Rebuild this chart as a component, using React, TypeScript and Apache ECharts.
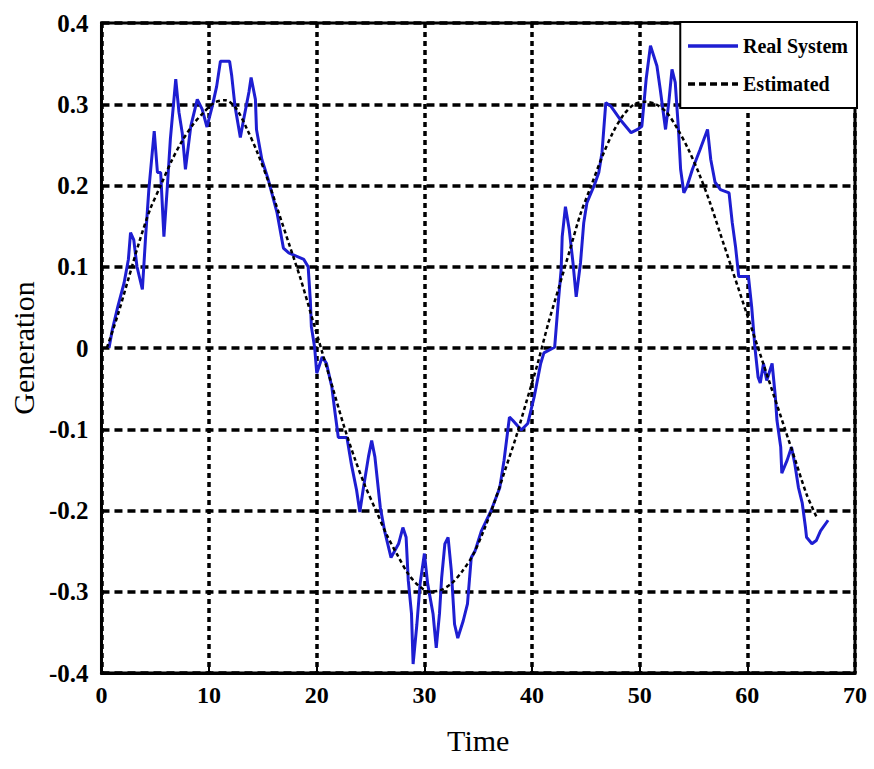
import React, { useEffect, useRef } from "react";
import * as echarts from "echarts";

const xTicks = [0, 10, 20, 30, 40, 50, 60, 70];
const yTicks = [-0.4, -0.3, -0.2, -0.1, 0, 0.1, 0.2, 0.3, 0.4];

const realSystem: [number, number][] = [
  [0.7, 0], [1.0, 0.022], [1.5, 0.05], [2.1, 0.08], [2.5, 0.109], [2.7, 0.142], [3.0, 0.133], [3.3, 0.1],
  [3.8, 0.072], [4.1, 0.137], [4.4, 0.195], [4.9, 0.267], [5.2, 0.216], [5.5, 0.216], [5.8, 0.137], [6.1, 0.195],
  [6.4, 0.257], [6.9, 0.331], [7.2, 0.29], [7.5, 0.265], [7.8, 0.22], [8.3, 0.273], [8.9, 0.306], [9.35, 0.294],
  [9.8, 0.272], [10.3, 0.298], [10.7, 0.322], [11.05, 0.353], [11.9, 0.353], [12.1, 0.335], [12.4, 0.298],
  [12.9, 0.259], [13.2, 0.281], [13.7, 0.315], [13.9, 0.333], [14.3, 0.306], [14.4, 0.269], [14.9, 0.232],
  [15.5, 0.207], [16.3, 0.167], [16.9, 0.123], [17.4, 0.117], [18.8, 0.109], [19.2, 0.1], [19.4, 0.059],
  [19.5, 0.026], [19.8, 0.001], [20.0, -0.031], [20.5, -0.011], [20.9, -0.019], [21.4, -0.048], [21.7, -0.08],
  [22.0, -0.11], [22.8, -0.11], [23.2, -0.142], [23.7, -0.175], [24.0, -0.202], [24.3, -0.175], [24.8, -0.134],
  [25.1, -0.114], [25.4, -0.134], [25.9, -0.196], [26.3, -0.225], [26.9, -0.258], [27.6, -0.241], [28.0, -0.221],
  [28.3, -0.233], [28.5, -0.286], [28.8, -0.327], [28.95, -0.389], [29.3, -0.34], [29.6, -0.29], [30.0, -0.253],
  [30.3, -0.29], [30.8, -0.327], [31.1, -0.369], [31.4, -0.327], [31.6, -0.283], [31.9, -0.241], [32.2, -0.233],
  [32.5, -0.274], [32.8, -0.34], [33.1, -0.357], [33.6, -0.336], [34.0, -0.315], [34.35, -0.258], [34.7, -0.25],
  [35.3, -0.225], [36.2, -0.2], [37.0, -0.172], [37.4, -0.138], [37.9, -0.085], [38.2, -0.089], [39.0, -0.101],
  [39.6, -0.093], [40.2, -0.06], [40.8, -0.019], [41.1, -0.006], [42.1, 0.001], [42.4, 0.051], [42.7, 0.096],
  [42.8, 0.137], [43.1, 0.174], [43.45, 0.146], [43.8, 0.105], [44.1, 0.063], [44.5, 0.105], [44.8, 0.154],
  [45.1, 0.179], [45.8, 0.201], [46.2, 0.216], [46.5, 0.241], [46.85, 0.302], [47.3, 0.298], [48.2, 0.281],
  [49.2, 0.265], [49.8, 0.269], [50.2, 0.273], [50.6, 0.331], [51.0, 0.372], [51.6, 0.347], [51.9, 0.319],
  [52.4, 0.269], [52.7, 0.302], [53.0, 0.343], [53.3, 0.327], [53.6, 0.269], [53.8, 0.22], [54.1, 0.191],
  [54.4, 0.199], [54.9, 0.22], [55.6, 0.244], [56.3, 0.269], [56.6, 0.232], [57.0, 0.204], [57.5, 0.195],
  [58.3, 0.191], [58.6, 0.154], [58.9, 0.125], [59.2, 0.088], [60.1, 0.088], [60.4, 0.051], [60.7, 0.001],
  [61.0, -0.036], [61.2, -0.043], [61.5, -0.019], [61.8, -0.04], [62.3, -0.019], [62.6, -0.06], [62.75, -0.089],
  [63.1, -0.122], [63.2, -0.154], [63.7, -0.138], [64.1, -0.122], [64.4, -0.142], [64.75, -0.172], [65.1, -0.191],
  [65.4, -0.221], [65.5, -0.233], [66.0, -0.241], [66.4, -0.237], [66.8, -0.225], [67.5, -0.212],
];

const estimated: [number, number][] = [
  [0.5, 0], [1.5, 0.04], [2.5, 0.085], [3.5, 0.13], [4.5, 0.17], [5.5, 0.2], [6.5, 0.23], [7.5, 0.255],
  [8.5, 0.275], [9.5, 0.29], [10.5, 0.302], [11.5, 0.305], [12.5, 0.295], [13.5, 0.27], [14.5, 0.24],
  [15.5, 0.205], [16.5, 0.165], [17.5, 0.125], [18.5, 0.085], [19.5, 0.04], [20.5, -0.005], [21.5, -0.05],
  [22.5, -0.095], [23.5, -0.135], [24.5, -0.17], [25.5, -0.2], [26.5, -0.23], [27.5, -0.255], [28.5, -0.278],
  [29.5, -0.293], [30.5, -0.3], [31.5, -0.298], [32.5, -0.29], [33.5, -0.275], [34.5, -0.255], [35.5, -0.225],
  [36.5, -0.19], [37.5, -0.15], [38.5, -0.11], [39.5, -0.065], [40.5, -0.02], [41.5, 0.03], [42.5, 0.075],
  [43.5, 0.12], [44.5, 0.165], [45.5, 0.2], [46.5, 0.235], [47.5, 0.265], [48.5, 0.287], [49.5, 0.3],
  [50.5, 0.303], [51.5, 0.3], [52.5, 0.29], [53.5, 0.27], [54.5, 0.245], [55.5, 0.215], [56.5, 0.18],
  [57.5, 0.14], [58.5, 0.1], [59.5, 0.06], [60.5, 0.02], [61.5, -0.02], [62.5, -0.06], [63.5, -0.1],
  [64.5, -0.14], [65.5, -0.18], [66.5, -0.21],
];

const FONT = "'Liberation Serif', 'Times New Roman', serif";
const BLUE = "#1e1ed2";

export default function App() {
  const ref = useRef<HTMLDivElement>(null);
  useEffect(() => {
    if (!ref.current) return;
    const chart = echarts.init(ref.current, null, { renderer: "svg" });
    chart.setOption({
      animation: false,
      backgroundColor: "#fff",
      grid: {
        left: 99, top: 23, width: 756, height: 650,
        show: true, borderColor: "#000", borderWidth: 3, backgroundColor: "transparent",
      },
      legend: {
        orient: "vertical",
        right: 17,
        top: 22,
        backgroundColor: "#fff",
        borderColor: "#000",
        borderWidth: 2,
        borderRadius: 0,
        padding: [14, 9, 14, 6],
        itemGap: 18,
        itemWidth: 50,
        itemHeight: 18,
        itemStyle: { opacity: 0 },
        textStyle: { fontFamily: FONT, fontWeight: "bold", fontSize: 20, color: "#000" },
        data: [
          { name: "Real System", lineStyle: { color: BLUE, width: 3.5, type: "solid" } },
          { name: "Estimated", lineStyle: { color: "#000", width: 3.5, type: [7, 4] } },
        ],
      },
      xAxis: {
        type: "value",
        min: 0, max: 70, interval: 10,
        name: "Time",
        nameLocation: "middle",
        nameGap: 52,
        nameTextStyle: { fontFamily: FONT, fontSize: 30, color: "#000" },
        axisLine: { show: true, onZero: false, lineStyle: { color: "#000", width: 3 } },
        axisTick: { show: true, inside: true, length: 7, lineStyle: { color: "#000", width: 2 } },
        axisLabel: {
          fontFamily: FONT, fontWeight: "bold", fontSize: 24, color: "#000", margin: 10,
          formatter: (v: number) => String(v),
        },
        splitLine: { show: true, lineStyle: { color: "#000", width: 3.5, type: [5, 4] } },
      },
      yAxis: {
        type: "value",
        min: -0.4, max: 0.4, interval: 0.1,
        name: "Generation",
        nameLocation: "middle",
        nameGap: 62,
        nameTextStyle: { fontFamily: FONT, fontSize: 30, color: "#000" },
        axisLine: { show: true, onZero: false, lineStyle: { color: "#000", width: 3 } },
        axisTick: { show: false },
        axisLabel: {
          fontFamily: FONT, fontWeight: "bold", fontSize: 25, color: "#000", margin: 13,
          formatter: (v: number) => String(Math.round(v * 10) / 10),
        },
        splitLine: { show: true, lineStyle: { color: "#000", width: 3.5, type: [8, 5] } },
      },
      series: [
        {
          name: "Real System",
          type: "line",
          data: realSystem,
          symbol: "none",
          lineStyle: { color: BLUE, width: 3 },
          itemStyle: { color: BLUE },
          z: 3,
        },
        {
          name: "Estimated",
          type: "line",
          data: estimated,
          symbol: "none",
          smooth: 0.3,
          lineStyle: { color: "#000", width: 2.5, type: [4, 3] },
          itemStyle: { color: "#000" },
          z: 4,
        },
      ],
    });
    return () => chart.dispose();
  }, []);
  return (
    <div
      ref={ref}
      style={{ position: "fixed", left: 0, top: 0, width: 874, height: 769, background: "#fff" }}
    />
  );
}
